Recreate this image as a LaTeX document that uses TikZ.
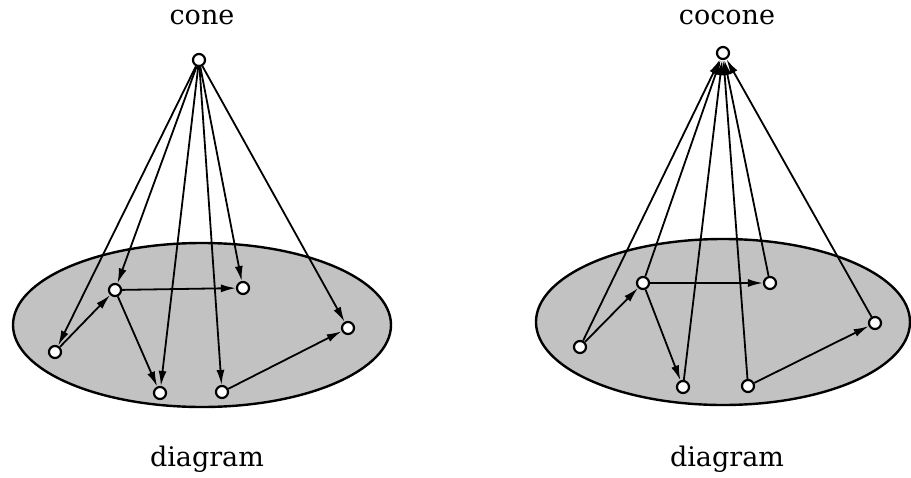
\documentclass[tikz,border=0pt]{standalone}
\usepackage{fontspec}
\setmainfont{DejaVu Serif}
\usetikzlibrary{arrows.meta}
\begin{document}
\begin{tikzpicture}[x=1pt,y=-1pt,
  obj/.style={circle,draw,line width=2.2pt,fill=white,minimum size=12pt,inner sep=0pt},
  arr/.style={line width=1.8pt,-{Latex[length=15pt,width=8pt]}},
  disc/.style={draw,line width=2.4pt,fill=black!24},
  lbl/.style={font=\fontsize{27}{31}\selectfont}]
\useasboundingbox (0,0) rectangle (911,477);
% ---- cone ----
\draw[disc] (202,325) ellipse [x radius=189, y radius=82];
\node[lbl] (t1) at (202,17) {cone};
\node[lbl] (d1) at (207,459) {diagram};
\node[obj] (ap) at (199,60) {};
\node[obj] (a1) at (55,352) {};
\node[obj] (b1) at (115,290) {};
\node[obj] (c1) at (243,288) {};
\node[obj] (dd1) at (160,393) {};
\node[obj] (e1) at (222,392) {};
\node[obj] (f1) at (348,328) {};
\foreach \n in {a1,b1,c1,dd1,e1,f1} \draw[arr] (ap) -- (\n);
\draw[arr] (a1) -- (b1);
\draw[arr] (b1) -- (c1);
\draw[arr] (b1) -- (dd1);
\draw[arr] (e1) -- (f1);
% ---- cocone ----
\draw[disc] (723,322) ellipse [x radius=187, y radius=83];
\node[lbl] (t2) at (727,17) {cocone};
\node[lbl] (d2) at (727,459) {diagram};
\node[obj] (cp) at (723,53) {};
\node[obj] (a2) at (580,347) {};
\node[obj] (b2) at (643,283) {};
\node[obj] (c2) at (770,283) {};
\node[obj] (dd2) at (683,387) {};
\node[obj] (e2) at (748,386) {};
\node[obj] (f2) at (875,323) {};
\foreach \n in {a2,b2,c2,dd2,e2,f2} \draw[arr] (\n) -- (cp);
\draw[arr] (a2) -- (b2);
\draw[arr] (b2) -- (c2);
\draw[arr] (b2) -- (dd2);
\draw[arr] (e2) -- (f2);
\end{tikzpicture}
\end{document}
